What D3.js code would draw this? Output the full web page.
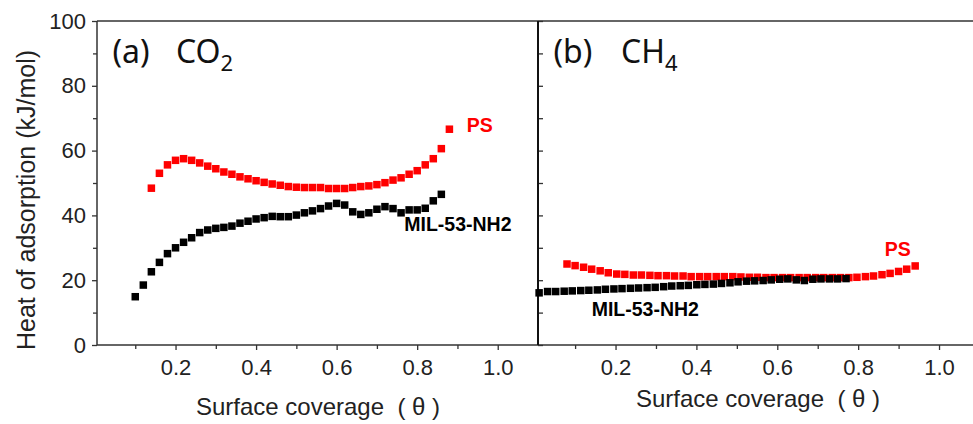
<!DOCTYPE html>
<html>
<head>
<meta charset="utf-8">
<script src="https://cdn.jsdelivr.net/npm/d3@7"></script>
<style>
  body { margin: 0; background: #fff; }
  svg text { font-family: Arial, "Liberation Sans", sans-serif; }
  .pre { white-space: pre; }
</style>
</head>
<body>
<svg id="chart"></svg>
<script>
// (a) CO2 - surface coverage / heat of adsorption (kJ/mol)
const co2MilTheta = [0.10, 0.12, 0.14, 0.16, 0.18, 0.20, 0.22, 0.24, 0.26, 0.28, 0.30, 0.32, 0.34, 0.36, 0.38, 0.40,
  0.42, 0.44, 0.46, 0.48, 0.50, 0.52, 0.54, 0.56, 0.58, 0.60, 0.62, 0.64, 0.66, 0.68, 0.70, 0.72, 0.74, 0.76, 0.78,
  0.80, 0.82, 0.84, 0.86];
const co2MilHeat = [14.9, 18.5, 22.6, 25.5, 28.2, 30.0, 31.7, 33.1, 34.7, 35.5, 36.0, 36.3, 36.7, 37.6, 38.2, 38.9,
  39.3, 39.7, 39.6, 39.6, 40.1, 40.8, 41.4, 42.1, 42.9, 43.7, 43.2, 41.1, 40.3, 40.8, 41.9, 42.7, 42.1, 40.8, 41.7,
  41.7, 42.2, 44.5, 46.5];
const co2PsTheta = [0.14, 0.16, 0.18, 0.20, 0.22, 0.24, 0.26, 0.28, 0.30, 0.32, 0.34, 0.36, 0.38, 0.40, 0.42, 0.44,
  0.46, 0.48, 0.50, 0.52, 0.54, 0.56, 0.58, 0.60, 0.62, 0.64, 0.66, 0.68, 0.70, 0.72, 0.74, 0.76, 0.78, 0.80, 0.82,
  0.84, 0.86, 0.88];
const co2PsHeat = [48.4, 53.0, 55.6, 57.0, 57.5, 57.0, 56.2, 55.2, 54.4, 53.4, 52.7, 51.9, 51.3, 50.7, 50.2, 49.7,
  49.3, 48.9, 48.7, 48.6, 48.6, 48.6, 48.3, 48.3, 48.3, 48.6, 48.9, 49.1, 49.5, 50.1, 50.9, 51.6, 52.7, 53.8, 55.6,
  57.5, 60.6, 66.6];

// (b) CH4
const ch4MilTheta = [0.011, 0.032, 0.052, 0.073, 0.093, 0.114, 0.134, 0.155, 0.175, 0.196, 0.216, 0.237, 0.257, 0.278,
  0.298, 0.319, 0.339, 0.360, 0.380, 0.401, 0.421, 0.442, 0.462, 0.483, 0.503, 0.524, 0.544, 0.565, 0.585, 0.606,
  0.626, 0.647, 0.667, 0.688, 0.708, 0.729, 0.749, 0.770];
const ch4MilHeat = [16.1, 16.5, 16.5, 16.6, 16.7, 16.8, 16.9, 17.0, 17.2, 17.3, 17.4, 17.5, 17.6, 17.7,
  17.8, 18.0, 18.2, 18.3, 18.4, 18.6, 18.7, 18.8, 19.0, 19.2, 19.5, 19.7, 19.8, 19.9, 20.1, 20.3,
  20.4, 20.1, 19.9, 20.3, 20.4, 20.4, 20.4, 20.5];
const ch4PsTheta = [0.080, 0.100, 0.121, 0.141, 0.162, 0.182, 0.203, 0.223, 0.244, 0.264, 0.285, 0.305, 0.326, 0.346,
  0.367, 0.387, 0.408, 0.428, 0.449, 0.469, 0.490, 0.510, 0.531, 0.551, 0.572, 0.592, 0.613, 0.633, 0.654, 0.674,
  0.695, 0.715, 0.736, 0.756, 0.777, 0.797, 0.818, 0.838, 0.859, 0.879, 0.900, 0.920, 0.941];
const ch4PsHeat = [25.0, 24.5, 24.0, 23.4, 22.9, 22.3, 21.9, 21.8, 21.6, 21.6, 21.5, 21.4, 21.4, 21.3,
  21.3, 21.1, 21.1, 21.1, 21.1, 21.1, 21.1, 21.0, 20.9, 20.9, 20.8, 20.8, 20.8, 20.8, 20.8, 20.8,
  20.8, 20.8, 20.8, 20.8, 20.8, 20.9, 21.1, 21.3, 21.7, 22.1, 22.7, 23.4, 24.4];

const yTicks = [0, 20, 40, 60, 80, 100];
const yMinor = [10, 30, 50, 70, 90];
const xTicks = [0.2, 0.4, 0.6, 0.8, 1.0];
const xMinor = [0.1, 0.3, 0.5, 0.7, 0.9];

const width = 973, height = 424;
const plotTop = 21, plotBottom = 345;
const axisColor = '#333';
const red = '#ff0000';
const markSize = 7.5;

const svg = d3.select('#chart')
  .attr('width', width)
  .attr('height', height);

const y = d3.scaleLinear().domain([0, 100]).range([plotBottom, plotTop]);
const xa = d3.scaleLinear().domain([0.005, 1.1]).range([97, 538]);
const xb = d3.scaleLinear().domain([0.009, 1.084]).range([538.3, 973]);

function drawPoints(g, x, thetas, heats, color) {
  g.append('g')
    .selectAll('rect')
    .data(thetas.map((t, i) => [t, heats[i]]))
    .enter()
    .append('rect')
    .attr('x', d => x(d[0]) - markSize / 2)
    .attr('y', d => y(d[1]) - markSize / 2)
    .attr('width', markSize)
    .attr('height', markSize)
    .attr('fill', color);
}

function styleAxis(g) {
  g.select('.domain').remove();
  g.selectAll('line').attr('stroke', axisColor).attr('stroke-width', 1.3);
  g.selectAll('text')
    .attr('fill', '#222')
    .style('font-size', '22px');
}

function xAxis(x) {
  // minor ticks
  svg.append('g')
    .attr('transform', 'translate(0,' + plotBottom + ')')
    .call(d3.axisBottom(x).tickValues(xMinor).tickSize(4).tickFormat(''))
    .call(styleAxis);
  svg.append('g')
    .attr('transform', 'translate(0,' + plotBottom + ')')
    .call(d3.axisBottom(x).tickValues(xTicks).tickSize(5).tickPadding(9).tickFormat(d3.format('.1f')))
    .call(styleAxis);
}

// y axis of (a)
svg.append('g')
  .attr('transform', 'translate(97,0)')
  .call(d3.axisLeft(y).tickValues(yMinor).tickSize(4).tickFormat(''))
  .call(styleAxis);
svg.append('g')
  .attr('transform', 'translate(97,0)')
  .call(d3.axisLeft(y).tickValues(yTicks).tickSize(5).tickPadding(6))
  .call(styleAxis);

// inner ticks of (b) y axis
svg.append('g')
  .attr('transform', 'translate(538,0)')
  .call(d3.axisRight(y).tickValues(yTicks.concat(yMinor)).tickSize(5).tickFormat(''))
  .call(styleAxis);

xAxis(xa);
xAxis(xb);

// frame lines
const frame = svg.append('g').attr('stroke', axisColor).attr('stroke-width', 1.5);
frame.append('line').attr('x1', 97).attr('x2', width).attr('y1', plotTop).attr('y2', plotTop);
frame.append('line').attr('x1', 97).attr('x2', width).attr('y1', plotBottom).attr('y2', plotBottom);
frame.append('line').attr('x1', 97).attr('x2', 97).attr('y1', plotTop).attr('y2', plotBottom);
frame.append('line').attr('x1', 538).attr('x2', 538).attr('y1', plotTop).attr('y2', plotBottom)
  .attr('stroke', '#111').attr('stroke-width', 2);

// data (black drawn on top of red)
drawPoints(svg, xa, co2PsTheta, co2PsHeat, red);
drawPoints(svg, xa, co2MilTheta, co2MilHeat, '#000');
drawPoints(svg, xb, ch4PsTheta, ch4PsHeat, red);
drawPoints(svg, xb, ch4MilTheta, ch4MilHeat, '#000');

// series labels
function label(x, theta, heat, txt, color) {
  svg.append('text')
    .attr('x', x(theta))
    .attr('y', y(heat))
    .attr('fill', color)
    .style('font-size', '19.5px')
    .style('font-weight', 'bold')
    .text(txt);
}
label(xa, 0.923, 65.7, 'PS', red);
label(xa, 0.768, 35.2, 'MIL-53-NH2', '#000');
label(xb, 0.866, 27.5, 'PS', red);
label(xb, 0.141, 8.95, 'MIL-53-NH2', '#000');

// panel titles
function panelTitle(x0, x1, tag, gas, sub) {
  const t = svg.append('text')
    .attr('y', 63)
    .attr('fill', '#111')
    .style('font-family', '"Noto Sans", sans-serif')
    .style('font-size', '32px');
  t.append('tspan').attr('x', x0).text(tag);
  t.append('tspan').attr('x', x1).text(gas);
  t.append('tspan').attr('dy', 7.5).style('font-size', '22px').text(sub);
}
panelTitle(112.5, 176, '(a)', 'CO', '2');
panelTitle(553.5, 621, '(b)', 'CH', '4');

// axis titles
svg.append('text')
  .attr('transform', 'translate(35,200) rotate(-90)')
  .attr('text-anchor', 'middle')
  .attr('fill', '#222')
  .style('font-size', '25px')
  .text('Heat of adsorption (kJ/mol)');

function xTitle(cx, baseline) {
  svg.append('text')
    .attr('class', 'pre')
    .attr('x', cx)
    .attr('y', baseline)
    .attr('text-anchor', 'middle')
    .attr('fill', '#222')
    .style('font-size', '24px')
    .text('Surface coverage  ( \u03b8 )');
}
xTitle(318, 415);
xTitle(758, 407);
</script>
</body>
</html>
